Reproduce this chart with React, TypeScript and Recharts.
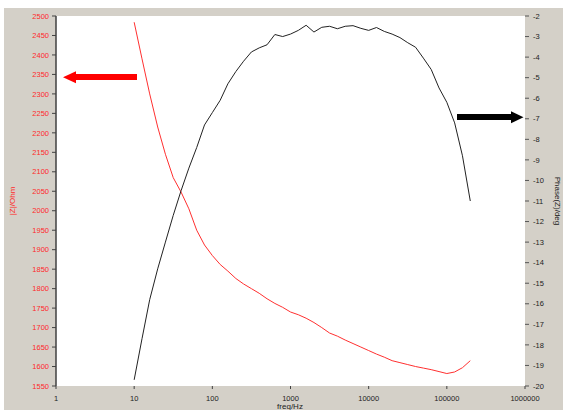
import { ComposedChart, Line, XAxis, YAxis, CartesianGrid } from 'recharts';

const freqHz = [
  10, 12.6, 15.8, 20, 25.1, 31.6, 39.8, 50.1, 63.1, 79.4,
  100, 126, 158, 200, 251, 316, 398, 501, 631, 794,
  1000, 1259, 1585, 1995, 2512, 3162, 3981, 5012, 6310, 7943,
  10000, 12589, 15849, 19953, 25119, 31623, 39811, 50119, 63096, 79433,
  100000, 125893, 158489, 199526,
];
const impedanceOhm = [
  2484, 2390, 2300, 2215, 2145, 2085, 2048, 2005, 1950, 1912,
  1885, 1862, 1845, 1826, 1812, 1800, 1788, 1774, 1762, 1752,
  1740, 1733, 1724, 1713, 1700, 1686, 1678, 1668, 1659, 1650,
  1641, 1632, 1624, 1615, 1610, 1605, 1600, 1596, 1592, 1587,
  1582, 1586, 1597, 1615,
];
const phaseDeg = [
  -19.7, -17.7, -15.8, -14.3, -13.0, -11.7, -10.5, -9.4, -8.4, -7.3,
  -6.7, -6.1, -5.3, -4.7, -4.2, -3.75, -3.55, -3.4, -2.9, -3.0,
  -2.88, -2.7, -2.45, -2.78, -2.55, -2.5, -2.62, -2.5, -2.47, -2.6,
  -2.7, -2.56, -2.75, -2.88, -3.05, -3.3, -3.52, -4.05, -4.6, -5.5,
  -6.2, -7.2, -8.8, -11.0,
];

const freqTicks = [1, 10, 100, 1000, 10000, 100000, 1000000];
const zTicks = [1550, 1600, 1650, 1700, 1750, 1800, 1850, 1900, 1950, 2000, 2050, 2100, 2150, 2200, 2250, 2300, 2350, 2400, 2450, 2500];
const phaseTicks = [-20, -19, -18, -17, -16, -15, -14, -13, -12, -11, -10, -9, -8, -7, -6, -5, -4, -3, -2];

const data = freqHz.map((f, i) => ({ f, z: impedanceOhm[i], phase: phaseDeg[i] }));

const FONT = '"Liberation Sans", Arial, sans-serif';
const GRAY = '#d4d0c8';
const AXIS = '#404040';

export default function App() {
  return (
    <div style={{ position: 'absolute', left: 0, top: 0, width: 563, height: 410, background: '#fff', overflow: 'hidden' }}>
      <div style={{ position: 'absolute', left: 4, top: 8, width: 559, height: 402, background: GRAY }} />
      <div style={{ position: 'absolute', left: 0, top: 0 }}>
        <ComposedChart width={563} height={410} data={data} margin={{ top: 16, right: 0, bottom: 0, left: 0 }}>
          <CartesianGrid fill="#fff" stroke="none" horizontal={false} vertical={false} />
          <XAxis
            xAxisId="bottom"
            dataKey="f"
            type="number"
            scale="log"
            domain={[1, 1000000]}
            ticks={freqTicks}
            interval={0}
            allowDataOverflow
            height={24}
            axisLine={false}
            tickSize={3}
            tickMargin={7}
            tickLine={{ stroke: AXIS }}
            tick={{ fill: '#222', fontSize: 7.5, fontFamily: FONT }}
          />
          <XAxis
            xAxisId="top"
            orientation="top"
            type="number"
            scale="log"
            domain={[1, 1000000]}
            ticks={freqTicks}
            interval={0}
            allowDataOverflow
            height={0}
            axisLine={{ stroke: AXIS, strokeWidth: 1.5 }}
            tickSize={3}
            tickLine={{ stroke: AXIS }}
            tickFormatter={() => ''}
          />
          <YAxis
            yAxisId="z"
            orientation="left"
            width={56}
            domain={[1550, 2500]}
            ticks={zTicks}
            interval={0}
            allowDataOverflow
            axisLine={{ stroke: AXIS, strokeWidth: 1.5 }}
            tickSize={4}
            tickMargin={3}
            tickLine={{ stroke: AXIS }}
            tick={{ fill: '#ff2a2a', fontSize: 7.5, fontFamily: FONT }}
          />
          <YAxis
            yAxisId="phase"
            orientation="right"
            width={38}
            domain={[-20, -2]}
            ticks={phaseTicks}
            interval={0}
            allowDataOverflow
            axisLine={false}
            tickSize={4}
            tickMargin={4}
            tickLine={{ stroke: '#555' }}
            tick={{ fill: '#222', fontSize: 7.5, fontFamily: FONT }}
          />
          <Line
            xAxisId="bottom"
            yAxisId="z"
            type="linear"
            dataKey="z"
            stroke="#ff3030"
            strokeWidth={1}
            dot={false}
            isAnimationActive={false}
          />
          <Line
            xAxisId="bottom"
            yAxisId="phase"
            type="linear"
            dataKey="phase"
            stroke="#222"
            strokeWidth={1}
            dot={false}
            isAnimationActive={false}
          />
        </ComposedChart>
      </div>
      <svg width={563} height={410} style={{ position: 'absolute', left: 0, top: 0, pointerEvents: 'none' }}>
        <text x={12} y={201} transform="rotate(-90 12 201)" textAnchor="middle" dominantBaseline="central" fill="#ff2a2a" fontSize={8} fontFamily={FONT}>
          |Z|/Ohm
        </text>
        <text x={557} y={201} transform="rotate(90 557 201)" textAnchor="middle" dominantBaseline="central" fill="#222" fontSize={8} fontFamily={FONT}>
          Phase(Z)/deg
        </text>
        <text x={290} y={409} textAnchor="middle" fill="#222" fontSize={8} fontFamily={FONT}>
          freq/Hz
        </text>
        <rect x={75} y={74} width={62} height={6} fill="#ff0000" />
        <polygon points="63,77.3 76,71.3 76,83.3" fill="#ff0000" />
        <rect x={457} y={114} width={55} height={6} fill="#000" />
        <polygon points="523.5,117.3 511,111.3 511,123.3" fill="#000" />
      </svg>
    </div>
  );
}
